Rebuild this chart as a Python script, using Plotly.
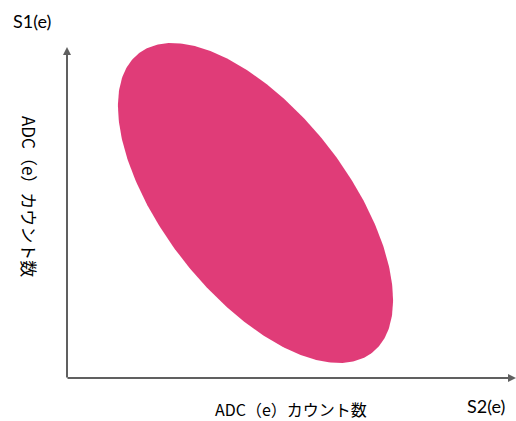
import numpy as np
import plotly.graph_objects as go

# Ellipse describing the S1/S2 ADC count distribution (axis units)
center = [188.5, 175.0]
semi_axes = [189.8, 92.1]
tilt_deg = -52.0
fill_color = "#E03C78"

x_axis_len = 449
y_axis_len = 331

x_label = "ADC（e）カウント数"
y_label = "ADC（e）カウント数"
x_name = "S2(e)"
y_name = "S1(e)"

t = np.linspace(0, 2 * np.pi, 361)
th = np.deg2rad(tilt_deg)
ex = center[0] + semi_axes[0] * np.cos(t) * np.cos(th) - semi_axes[1] * np.sin(t) * np.sin(th)
ey = center[1] + semi_axes[0] * np.cos(t) * np.sin(th) + semi_axes[1] * np.sin(t) * np.cos(th)

fig = go.Figure()
fig.add_trace(go.Scatter(x=ex, y=ey, mode="lines", fill="toself",
                         fillcolor=fill_color, line=dict(color=fill_color, width=0),
                         hoverinfo="skip", showlegend=False))

axis_color = "#606060"
arrow_common = dict(showarrow=True, arrowhead=2, arrowsize=0.8, arrowwidth=2,
                    arrowcolor=axis_color, text="", xref="x", yref="y", axref="x", ayref="y")
fig.add_annotation(x=0, y=y_axis_len, ax=0, ay=-1, **arrow_common)
fig.add_annotation(x=x_axis_len, y=0, ax=-1, ay=0, **arrow_common)

cjk = "Noto Sans CJK JP"
latin = "Lato, Noto Sans CJK JP"
fig.add_annotation(x=-35, y=357, text=y_name, showarrow=False,
                   font=dict(family=latin, size=18, color="#000"))
fig.add_annotation(x=419, y=-28, text=x_name, showarrow=False,
                   font=dict(family=latin, size=18, color="#000"))
fig.add_annotation(x=224, y=-31, text=x_label, showarrow=False,
                   font=dict(family=cjk, size=16, color="#000"))
fig.add_annotation(x=-37, y=182, text=y_label, showarrow=False, textangle=90,
                   font=dict(family=cjk, size=17, color="#000"))

fig.update_layout(
    width=516, height=421,
    margin=dict(l=0, r=0, t=0, b=0),
    paper_bgcolor="white", plot_bgcolor="white",
    xaxis=dict(range=[-67, 449], visible=False, fixedrange=True),
    yaxis=dict(range=[-43, 378], visible=False, fixedrange=True),
)
fig.write_html("out.html")
